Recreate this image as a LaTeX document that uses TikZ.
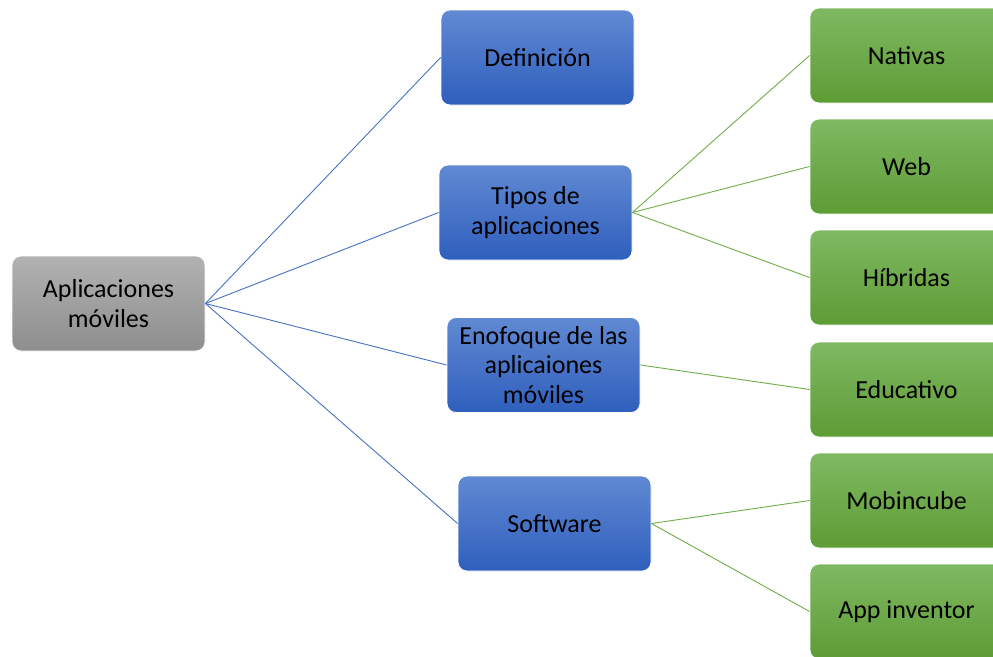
\documentclass[tikz,border=0pt]{standalone}
\usepackage{fontspec}
\setmainfont{Carlito}
\definecolor{bluetop}{HTML}{6189D3}
\definecolor{bluebot}{HTML}{2F5FBD}
\definecolor{greentop}{HTML}{7FB962}
\definecolor{greenbot}{HTML}{5E9C35}
\definecolor{graytop}{HTML}{B2B2B2}
\definecolor{graybot}{HTML}{8E8E8E}
\definecolor{blueline}{HTML}{4472C4}
\definecolor{greenline}{HTML}{70AD47}
\tikzset{
  boxbase/.style={rectangle, rounded corners=9pt, draw=white, line width=0.8pt,
    minimum width=193pt, minimum height=95pt, text width=190pt, align=flush center,
    inner sep=0pt, font=\fontsize{26}{29.5}\selectfont, text=black},
  graybox/.style={boxbase, top color=graytop, bottom color=graybot},
  bluebox/.style={boxbase, top color=bluetop, bottom color=bluebot},
  greenbox/.style={boxbase, top color=greentop, bottom color=greenbot},
  blink/.style={draw=blueline, line width=0.9pt},
  glink/.style={draw=greenline, line width=0.9pt}
}
\begin{document}
\begin{tikzpicture}[x=1pt, y=-1pt]
\useasboundingbox (0,0) rectangle (993,656);
\clip (0,0) rectangle (993,656);
\node[graybox] (root) at (108.5,303.5) {Aplicaciones\\móviles};
\node[bluebox] (def) at (537.5,57.5) {Definición};
\node[bluebox] (tip) at (535.5,212.5) {Tipos de\\aplicaciones};
\node[bluebox] (enf) at (543.5,365) {Enofoque de las\\aplicaiones\\móviles};
\node[bluebox] (sof) at (554.5,523.5) {Software};
\node[greenbox] (nat) at (906.5,55.5) {Nativas};
\node[greenbox] (web) at (906.5,166.5) {Web};
\node[greenbox] (hib) at (906.5,277.5) {Híbridas};
\node[greenbox] (edu) at (906.5,389.5) {Educativo};
\node[greenbox] (mob) at (906.5,500.5) {Mobincube};
\node[greenbox] (app) at (906.5,611.5) {App inventor};
\draw[blink] (root.east) -- (def.west);
\draw[blink] (root.east) -- (tip.west);
\draw[blink] (root.east) -- (enf.west);
\draw[blink] (root.east) -- (sof.west);
\draw[glink] (tip.east) -- (nat.west);
\draw[glink] (tip.east) -- (web.west);
\draw[glink] (tip.east) -- (hib.west);
\draw[glink] (enf.east) -- (edu.west);
\draw[glink] (sof.east) -- (mob.west);
\draw[glink] (sof.east) -- (app.west);
\end{tikzpicture}
\end{document}
